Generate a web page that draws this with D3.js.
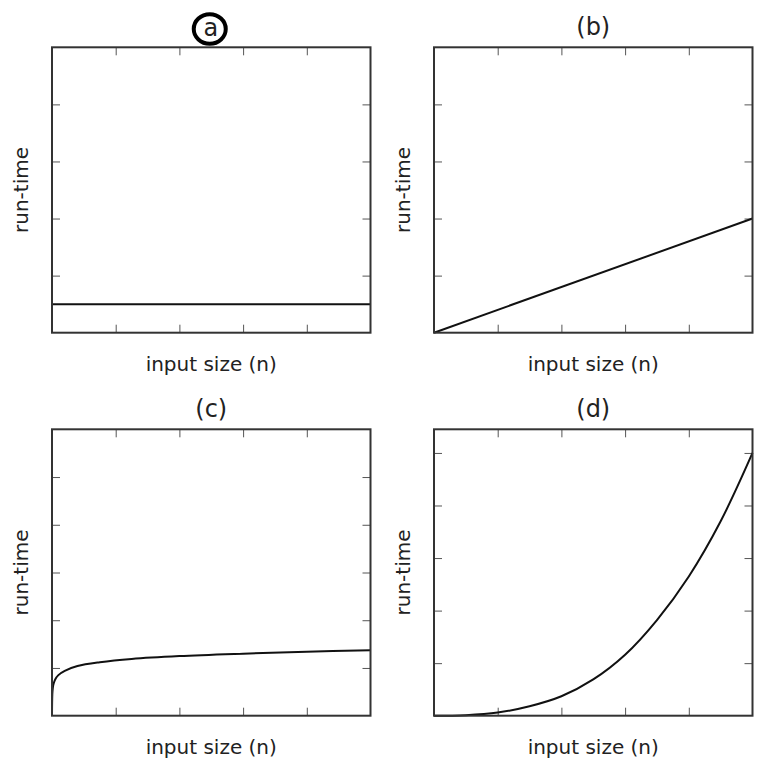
<!DOCTYPE html>
<html>
<head>
<meta charset="utf-8">
<script src="https://cdn.jsdelivr.net/npm/d3@7"></script>
<style>
  body { margin: 0; background: #fff; }
  text { font-family: "DejaVu Sans", sans-serif; fill: #222; }
</style>
</head>
<body>
<svg id="chart"></svg>
<script>
// panel titles and axis labels
const titles = ["a", "(b)", "(c)", "(d)"];
const xLabel = "input size (n)";
const yLabel = "run-time";

// interior tick values (labels are hidden in the original)
const xTicks = [0.2, 0.4, 0.6, 0.8];
const yTicksAB = [0.2, 0.4, 0.6, 0.8];
const yTicksCD = [1, 2, 3, 4, 5];

// y domains per panel
const yMax = [1, 1, 6, 5.45];

// (a) constant
const constX = [0, 1];
const constY = [0.1, 0.1];
// (b) linear
const linX = [0, 1];
const linY = [0, 0.4];
// (c) logarithmic
const logX = [0, 0.001, 0.0025, 0.005, 0.01, 0.02, 0.04, 0.08, 0.15, 0.25, 0.4, 0.6, 0.8, 1];
const logY = [0, 0.45, 0.58, 0.67, 0.76, 0.85, 0.94, 1.04, 1.12, 1.19, 1.25, 1.30, 1.34, 1.37];
// (d) polynomial
const polyX = [0, 0.1, 0.2, 0.3, 0.4, 0.5, 0.6, 0.7, 0.8, 0.9, 1];
const polyY = [0, 0.01, 0.06, 0.18, 0.37, 0.69, 1.16, 1.82, 2.65, 3.70, 5.0];

const series = [
  [constX, constY],
  [linX, linY],
  [logX, logY],
  [polyX, polyY]
];

const W = 757, H = 764;
const svg = d3.select("#chart").attr("width", W).attr("height", H);

const lefts = [52, 434];
const tops = [47.3, 429.3];
const pw = 318.5;
const ph = [285.4, 286.4];

series.forEach((s, i) => {
  let col = i % 2, row = Math.floor(i / 2);
  let x0 = lefts[col], y0 = tops[row], h = ph[row];

  let g = svg.append("g").attr("transform", `translate(${x0},${y0})`);

  let x = d3.scaleLinear().domain([0, 1]).range([0, pw]);
  let y = d3.scaleLinear().domain([0, yMax[i]]).range([h, 0]);
  let yt = i < 2 ? yTicksAB : yTicksCD;

  // inward ticks on all four sides
  let styleAxis = sel => {
    sel.select(".domain").remove();
    sel.selectAll("line").attr("stroke", "#555").attr("stroke-width", 1);
  };
  g.append("g").attr("transform", `translate(0,${h})`)
    .call(d3.axisBottom(x).tickValues(xTicks).tickSize(-8).tickFormat(""))
    .call(styleAxis);
  g.append("g")
    .call(d3.axisTop(x).tickValues(xTicks).tickSize(-8).tickFormat(""))
    .call(styleAxis);
  g.append("g")
    .call(d3.axisLeft(y).tickValues(yt).tickSize(-8).tickFormat(""))
    .call(styleAxis);
  g.append("g").attr("transform", `translate(${pw},0)`)
    .call(d3.axisRight(y).tickValues(yt).tickSize(-8).tickFormat(""))
    .call(styleAxis);

  // the curve
  let pts = s[0].map((v, k) => [v, s[1][k]]);
  let line = d3.line()
    .x(d => x(d[0]))
    .y(d => y(d[1]))
    .curve(d3.curveCatmullRom.alpha(0.5));
  g.append("path")
    .datum(pts)
    .attr("d", line)
    .attr("fill", "none")
    .attr("stroke", "#111")
    .attr("stroke-width", 2);

  // frame
  g.append("rect")
    .attr("width", pw).attr("height", h)
    .attr("fill", "none")
    .attr("stroke", "#333")
    .attr("stroke-width", 2);

  // title
  g.append("text")
    .attr("x", pw / 2 - (i === 0 ? 0.5 : 0))
    .attr("y", i === 0 ? -11 : -12)
    .attr("text-anchor", "middle")
    .style("font-size", "24px")
    .text(titles[i]);

  // x label
  g.append("text")
    .attr("x", pw / 2)
    .attr("y", h + 38.5)
    .attr("text-anchor", "middle")
    .style("font-size", "20px")
    .text(xLabel);

  // y label
  g.append("text")
    .attr("transform", `translate(-24,${h / 2}) rotate(-90)`)
    .attr("text-anchor", "middle")
    .style("font-size", "20px")
    .text(yLabel);

  // highlight ring round the first title
  if (i === 0) {
    g.append("ellipse")
      .attr("cx", pw / 2 - 1.5)
      .attr("cy", -18.3)
      .attr("rx", 16)
      .attr("ry", 14.8)
      .attr("fill", "none")
      .attr("stroke", "#000")
      .attr("stroke-width", 4);
  }
});
</script>
</body>
</html>
